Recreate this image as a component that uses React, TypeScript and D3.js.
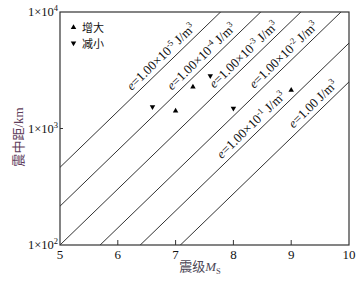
import React from "react";
import * as d3 from "d3";

// ---- data ----
const energyDensities = [1e-5, 1e-4, 1e-3, 1e-2, 1e-1, 1];
const densityExponents = ["-5", "-4", "-3", "-2", "-1", ""];
const labelAnchorM = [6.3, 7.0, 7.73, 8.42, 7.86, 9.1];
const riseM = [7.0, 7.3, 9.0];
const riseR = [1413, 2270, 2138];
const fallM = [6.6, 7.6, 8.0];
const fallR = [1538, 2825, 1490];
const xTicks = [5, 6, 7, 8, 9, 10];
const yTicks = [100, 1000, 10000];
const yTickExp = ["2", "3", "4"];
const legendNames = ["增大", "减小"];

// line model: log10 R = 2 + a (M - 5) - (log10 e + 3) / 3
const slopeA = 0.48;
const logR = (M: number, e: number) => 2 + slopeA * (M - 5) - (Math.log10(e) + 3) / 3;

const W = 362, H = 282;
const L = 60, R = 349, T = 12, B = 245;

const serif = "'Liberation Serif', 'DejaVu Serif', serif";
const cjk = "'Noto Sans CJK SC', sans-serif";

export default function App() {
  const x = d3.scaleLinear().domain([5, 10]).range([L, R]);
  const y = d3.scaleLog().domain([100, 10000]).range([B, T]);
  const angle = (Math.atan2(y(Math.pow(10, 2 + slopeA)) - y(100), x(6) - x(5)) * 180) / Math.PI;
  const up = d3.symbol().type(d3.symbolTriangle).size(13)() as string;

  return (
    <svg width={W} height={H} style={{ position: "absolute", left: 0, top: 0, background: "#fff" }}>
      <defs>
        <clipPath id="plot">
          <rect x={L} y={T} width={R - L} height={B - T} />
        </clipPath>
      </defs>
      <g clipPath="url(#plot)">
        {energyDensities.map((e, i) => {
          const d = d3
            .line<number>()
            .x((m) => x(m))
            .y((m) => y(Math.pow(10, logR(m, e))))([4, 11]) as string;
          return <path key={i} d={d} fill="none" stroke="#1a1a1a" strokeWidth={0.9} />;
        })}
      </g>
      {energyDensities.map((e, i) => {
        const m0 = labelAnchorM[i];
        const px = x(m0), py = y(Math.pow(10, logR(m0, e)));
        return (
          <text
            key={i}
            transform={`translate(${px},${py}) rotate(${angle})`}
            x={0}
            y={-5}
            fontFamily={serif}
            fontSize={13}
            fill="#111"
          >
            <tspan fontStyle="italic">e</tspan>
            <tspan>=1.00</tspan>
            {densityExponents[i] !== "" ? (
              <>
                <tspan>×10</tspan>
                <tspan fontSize={8.5} dy={-5}>{densityExponents[i]}</tspan>
                <tspan dy={5}> J/m</tspan>
              </>
            ) : (
              <tspan> J/m</tspan>
            )}
            <tspan fontSize={8.5} dy={-5}>3</tspan>
          </text>
        );
      })}
      {riseM.map((m, i) => (
        <path key={"u" + i} d={up} transform={`translate(${x(m)},${y(riseR[i])})`} fill="#000" />
      ))}
      {fallM.map((m, i) => (
        <path key={"d" + i} d={up} transform={`translate(${x(m)},${y(fallR[i])}) rotate(180)`} fill="#000" />
      ))}
      {/* frame */}
      <rect x={L} y={T} width={R - L} height={B - T} fill="none" stroke="#333" strokeWidth={1.2} />
      {xTicks.slice(1, -1).map((t) => (
        <line key={t} x1={x(t)} x2={x(t)} y1={B} y2={B - 5} stroke="#333" strokeWidth={1} />
      ))}
      {yTicks.slice(1, -1).map((t) => (
        <line key={t} x1={L} x2={L + 3} y1={y(t)} y2={y(t)} stroke="#333" strokeWidth={1} />
      ))}
      {xTicks.map((t) => (
        <text key={t} x={x(t)} y={B + 14} textAnchor="middle" fontFamily={serif} fontSize={13} fill="#111">
          {t}
        </text>
      ))}
      {yTicks.map((t, i) => (
        <text key={t} x={L - 2} y={y(t) + 4} textAnchor="end" fontFamily={serif} fontSize={12.5} fill="#111">
          <tspan>1×10</tspan>
          <tspan fontSize={8.5} dy={-5}>{yTickExp[i]}</tspan>
        </text>
      ))}
      {/* legend */}
      <path d={up} transform={`translate(73.5,27.5)`} fill="#000" />
      <path d={up} transform={`translate(73.5,43) rotate(180)`} fill="#000" />
      {legendNames.map((n, i) => (
        <text key={n} x={82} y={31.5 + i * 16} fontFamily={cjk} fontSize={11} fill="#111">
          {n}
        </text>
      ))}
      {/* axis titles */}
      <text x={200} y={271} textAnchor="middle" fontSize={13} fill="#4d4858">
        <tspan fontFamily={cjk}>震级</tspan>
        <tspan fontFamily={serif} fontStyle="italic">M</tspan>
        <tspan fontFamily={serif} fontSize={8.5} dy={3}>S</tspan>
      </text>
      <text
        transform={`translate(23,137) rotate(-90)`}
        textAnchor="middle"
        fontSize={13}
        fill="#5e3d5a"
      >
        <tspan fontFamily={cjk}>震中距</tspan>
        <tspan fontFamily={serif}>/km</tspan>
      </text>
    </svg>
  );
}
